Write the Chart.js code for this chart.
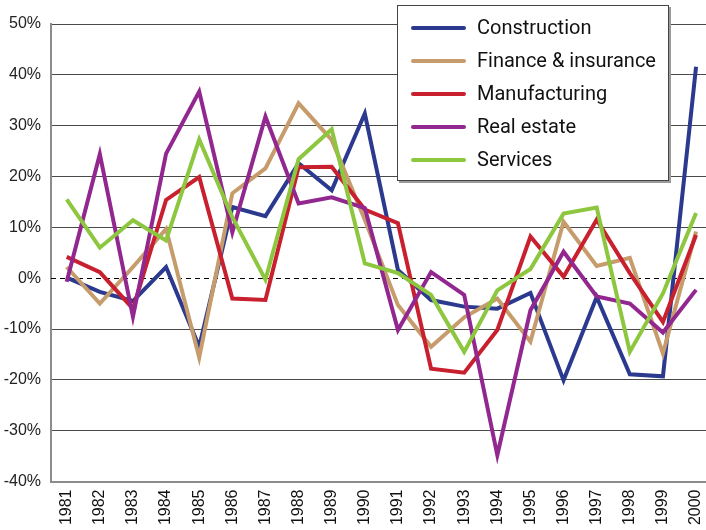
<!DOCTYPE html>
<html>
<head>
<meta charset="utf-8">
<script src="https://cdn.jsdelivr.net/npm/chart.js@4.4.1/dist/chart.umd.min.js"></script>
<style>
  html, body { margin: 0; padding: 0; background: #fff; overflow: hidden; }
  #wrap { width: 706px; height: 530px; position: relative; }
</style>
</head>
<body>
<div id="wrap"><canvas id="c" width="706" height="530"></canvas></div>
<script>
const years = [1981,1982,1983,1984,1985,1986,1987,1988,1989,1990,1991,1992,1993,1994,1995,1996,1997,1998,1999,2000];
const seriesNames = ["Construction", "Finance & insurance", "Manufacturing", "Real estate", "Services"];
const construction  = [0.1, -2.7, -4.5, 2.2, -13.5, 14.0, 12.2, 22.6, 17.3, 32.4, 1.6, -4.3, -5.6, -6.0, -2.9, -20.1, -3.7, -18.9, -19.3, 41.6];
const finance       = [2.2, -5.0, 2.2, 9.7, -15.6, 16.7, 21.6, 34.4, 27.2, 11.5, -5.3, -13.5, -7.7, -4.0, -12.5, 11.1, 2.4, 4.0, -14.8, 9.2];
const manufacturing = [4.2, 1.2, -6.0, 15.4, 19.9, -4.0, -4.3, 21.8, 21.9, 13.5, 10.8, -17.8, -18.6, -10.2, 8.2, 0.3, 11.5, 1.0, -8.6, 8.5];
const realEstate    = [-0.7, 24.4, -7.6, 24.5, 36.7, 9.0, 31.8, 14.7, 15.9, 13.8, -10.2, 1.2, -3.3, -34.8, -6.3, 5.2, -3.6, -5.0, -10.7, -2.3];
const services      = [15.5, 6.0, 11.4, 7.4, 27.3, 12.0, -0.3, 23.4, 29.3, 2.9, 1.0, -3.3, -14.5, -2.4, 1.8, 12.7, 13.9, -14.5, -3.0, 12.8];
const yTicks = [-40, -30, -20, -10, 0, 10, 20, 30, 40, 50];

const seriesValues = [construction, finance, manufacturing, realEstate, services];
const seriesColors = ["#2b3a8f", "#c69c6d", "#c8202f", "#92278f", "#8dc63f"];

const datasets = seriesNames.map((name, i) => ({
  label: name,
  data: years.map((yr, k) => ({ x: yr, y: seriesValues[i][k] })),
  borderColor: seriesColors[i],
  backgroundColor: seriesColors[i],
  borderWidth: 4,
  pointRadius: 0,
  tension: 0,
  fill: false,
  borderJoinStyle: 'miter',
  borderCapStyle: 'butt',
  order: seriesNames.length - i
}));

const zeroLine = {
  id: 'zeroLine',
  beforeDatasetsDraw(chart) {
    const { ctx, chartArea } = chart;
    const y = Math.round(chart.scales.y.getPixelForValue(0)) + 0.5;
    ctx.save();
    ctx.strokeStyle = '#000';
    ctx.lineWidth = 1;
    ctx.setLineDash([5, 4]);
    ctx.beginPath();
    ctx.moveTo(chartArea.left, y);
    ctx.lineTo(chartArea.right, y);
    ctx.stroke();
    ctx.restore();
  }
};

const boxLegend = {
  id: 'boxLegend',
  afterDraw(chart) {
    const { ctx } = chart;
    const bx = 397, by = 5, bw = 272, bh = 176;
    ctx.save();
    ctx.fillStyle = '#9a9a9a';
    ctx.fillRect(bx + 2, by + 2, bw, bh);
    ctx.fillStyle = '#fff';
    ctx.fillRect(bx, by, bw, bh);
    ctx.strokeStyle = '#444';
    ctx.lineWidth = 1;
    ctx.strokeRect(bx + 0.5, by + 0.5, bw - 1, bh - 1);
    ctx.font = '20px Roboto';
    ctx.textBaseline = 'middle';
    ctx.textAlign = 'left';
    chart.data.datasets.forEach((ds, i) => {
      const y = 28 + 33 * i;
      ctx.strokeStyle = ds.borderColor;
      ctx.lineWidth = 4;
      ctx.lineCap = 'round';
      ctx.beginPath();
      ctx.moveTo(413, y);
      ctx.lineTo(464, y);
      ctx.stroke();
      ctx.fillStyle = '#111';
      ctx.fillText(ds.label, 477, y + 1);
    });
    ctx.restore();
  }
};

new Chart(document.getElementById('c'), {
  type: 'line',
  data: { datasets },
  options: {
    responsive: false,
    animation: false,
    events: [],
    layout: { padding: { top: 24, right: 0, left: 0, bottom: 0 } },
    plugins: { legend: { display: false }, tooltip: { enabled: false } },
    scales: {
      x: {
        type: 'linear',
        min: 1980.526,
        max: 2000.30,
        afterBuildTicks: (scale) => { scale.ticks = years.map(v => ({ value: v })); },
        afterFit: (scale) => { scale.height = 48.5; scale.paddingRight = 0; scale.paddingLeft = 0; },
        grid: { display: false, drawTicks: false },
        border: { display: true, color: '#8c8c8c', width: 2 },
        ticks: {
          autoSkip: false,
          minRotation: 90,
          maxRotation: 90,
          padding: 8,
          color: '#111',
          font: { family: 'Liberation Sans', size: 16 },
          callback: (v) => String(v)
        }
      },
      y: {
        min: -40,
        max: 50,
        afterBuildTicks: (scale) => { scale.ticks = yTicks.map(v => ({ value: v })); },
        afterFit: (scale) => { scale.width = 51; },
        grid: {
          drawTicks: false,
          lineWidth: 1,
          color: (ctx) => (ctx.tick && (ctx.tick.value === 0 || ctx.tick.value === -40)) ? 'rgba(0,0,0,0)' : '#4a4a4a'
        },
        border: { display: true, color: '#8c8c8c', width: 2 },
        ticks: {
          padding: 10,
          color: '#222',
          font: { family: 'Liberation Sans', size: 16 },
          callback: (v) => v + '%'
        }
      }
    }
  },
  plugins: [zeroLine, boxLegend]
});
</script>
</body>
</html>
